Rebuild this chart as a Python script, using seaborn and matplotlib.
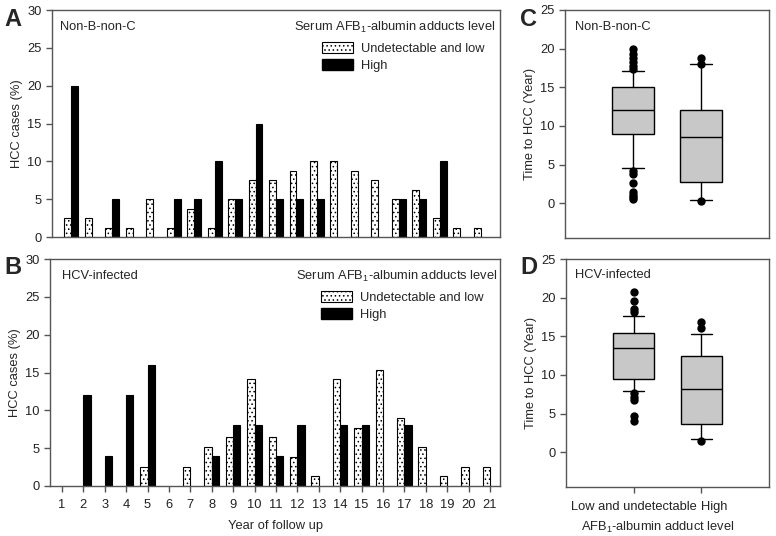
import numpy as np
import pandas as pd
import matplotlib
matplotlib.use('Agg')
import matplotlib.pyplot as plt
from matplotlib.patches import Patch
import seaborn as sns

# ---- data ----
years = list(range(1, 22))
bar_groups = ['Undetectable and low', 'High']

# A: Non-B-non-C, HCC cases (%) by year of follow up
nbnc_low = [2.5, 2.5, 1.25, 1.25, 5, 1.25, 3.75, 1.25, 5, 7.5, 7.5,
            8.75, 10, 10, 8.75, 7.5, 5, 6.25, 2.5, 1.25, 1.25]
nbnc_high = [20, 0, 5, 0, 0, 5, 5, 10, 5, 15, 5, 5, 5, 0, 0, 0, 5, 5, 10, 0, 0]

# B: HCV-infected
hcv_low = [0, 0, 0, 0, 2.56, 0, 2.56, 5.13, 6.41, 14.1, 6.41,
           3.85, 1.28, 14.1, 7.69, 15.38, 8.97, 5.13, 1.28, 2.56, 2.56]
hcv_high = [0, 12, 4, 12, 16, 0, 0, 4, 8, 8, 4, 8, 0, 8, 8, 0, 8, 0, 0, 0, 0]

# C / D: time to HCC (year), box summaries
box_groups = ['Low and undetectable', 'High']
nbnc_q1 = [9.0, 2.8]
nbnc_med = [12.1, 8.6]
nbnc_q3 = [15.0, 12.0]
nbnc_whislo = [4.6, 0.4]
nbnc_whishi = [17.1, 18.0]
nbnc_fliers = [[20.0, 19.3, 18.8, 18.3, 17.8, 17.4, 4.2, 3.8, 2.6, 1.4, 1.1, 0.8, 0.5],
               [18.8, 18.0, 0.35]]

hcv_q1 = [9.5, 3.6]
hcv_med = [13.5, 8.2]
hcv_q3 = [15.4, 12.4]
hcv_whislo = [7.9, 1.7]
hcv_whishi = [17.6, 15.3]
hcv_fliers = [[20.7, 19.6, 18.5, 18.1, 7.6, 7.2, 6.8, 4.7, 4.0],
              [16.9, 16.1, 1.4]]

# ---- style ----
sns.set_style('ticks')
plt.rcParams['font.family'] = ['Liberation Sans', 'DejaVu Sans']
plt.rcParams['mathtext.fontset'] = 'custom'
plt.rcParams['mathtext.rm'] = 'Liberation Sans'
plt.rcParams['hatch.linewidth'] = 0.6
FS = 9.3
SPINE = '#555555'
HATCH = '....'


def style_axes(ax):
    for s in ax.spines.values():
        s.set_visible(True)
        s.set_color(SPINE)
        s.set_linewidth(1.0)
    ax.tick_params(axis='both', direction='out', length=4, width=1,
                   color=SPINE, labelsize=FS, labelcolor='#222222')


def draw_bars(ax, low, high, xlim, label_x, subset, serum_x):
    df = pd.DataFrame({
        'year': years * 2,
        'pct': low + high,
        'group': [bar_groups[0]] * len(years) + [bar_groups[1]] * len(years),
    })
    sns.barplot(data=df, x='year', y='pct', hue='group', hue_order=bar_groups,
                palette=['white', 'black'], width=0.68, edgecolor='black',
                linewidth=0.8, errorbar=None, legend=False, ax=ax)
    for bar in ax.containers[0]:
        bar.set_hatch(HATCH)
    # empty years: no bar outline on the baseline
    for cont in ax.containers:
        for bar in cont:
            if bar.get_height() == 0:
                bar.set_visible(False)
    ax.set_xlim(*xlim)
    ax.set_ylim(0, 30)
    ax.set_yticks([0, 5, 10, 15, 20, 25, 30])
    ax.set_ylabel('HCC cases (%)', fontsize=FS, labelpad=3)
    style_axes(ax)
    if label_x:
        ax.tick_params(axis='x', pad=5)
        ax.set_xlabel('Year of follow up', fontsize=FS, labelpad=7)
    else:
        ax.set_xlabel('')
        ax.tick_params(axis='x', length=0, labelbottom=False)
    ax.text(subset[0], 0.925, subset[1], transform=ax.transAxes,
            fontsize=FS, va='center', ha='left')
    ax.text(serum_x, 0.925, 'Serum AFB$_1$-albumin adducts level',
            transform=ax.transAxes, fontsize=FS, va='center', ha='right')
    handles = [Patch(facecolor='white', edgecolor='black', hatch=HATCH, linewidth=0.8),
               Patch(facecolor='black', edgecolor='black')]
    ax.legend(handles, bar_groups, loc='upper left', bbox_to_anchor=(0.603, 0.86),
              frameon=False, fontsize=FS, handlelength=2.4, handleheight=1.0,
              handletextpad=0.6, labelspacing=0.3, borderpad=0, borderaxespad=0)


def draw_box(ax, q1, med, q3, whislo, whishi, fliers, subset, label_x):
    stats = []
    for i in range(len(box_groups)):
        stats.append({'q1': q1[i], 'med': med[i], 'q3': q3[i],
                      'whislo': whislo[i], 'whishi': whishi[i],
                      'fliers': fliers[i], 'label': box_groups[i]})
    ax.bxp(stats, positions=[1, 2], widths=0.61, capwidths=0.32,
           patch_artist=True, showfliers=True,
           boxprops=dict(facecolor='#c8c8c8', edgecolor='black', linewidth=1),
           medianprops=dict(color='black', linewidth=1),
           whiskerprops=dict(color='black', linewidth=1),
           capprops=dict(color='black', linewidth=1),
           flierprops=dict(marker='o', markerfacecolor='black',
                           markeredgecolor='black', markersize=5))
    ax.set_xlim(0, 3)
    ax.set_ylim(-4.5, 25)
    ax.set_yticks([0, 5, 10, 15, 20, 25])
    ax.set_ylabel('Time to HCC (Year)', fontsize=FS, labelpad=3)
    style_axes(ax)
    ax.set_xticks([1, 2])
    if label_x:
        labels = ax.set_xticklabels(box_groups)
        labels[1].set_horizontalalignment('left')
        ax.tick_params(axis='x', pad=6)
        ax.set_xlabel('AFB$_1$-albumin adduct level', fontsize=FS)
        ax.xaxis.set_label_coords(0.45, -0.145)
    else:
        ax.set_xticklabels([])
        ax.tick_params(axis='x', length=0)
    ax.text(subset[0], subset[1], subset[2], transform=ax.transAxes,
            fontsize=FS, va='center', ha='left')


fig = plt.figure(figsize=(7.76, 5.36), dpi=100)
W, H = 776, 536


def px_axes(left, top, right, bottom):
    return fig.add_axes([left / W, 1 - bottom / H, (right - left) / W, (bottom - top) / H])


ax_a = px_axes(52, 10, 500, 237)
ax_b = px_axes(50, 259, 500, 486)
ax_c = px_axes(565, 10, 769, 238)
ax_d = px_axes(566, 259, 769, 487)

draw_bars(ax_a, nbnc_low, nbnc_high, (-0.95, 20.95), False, (0.018, 'Non-B-non-C'), 0.989)
draw_bars(ax_b, hcv_low, hcv_high, (-0.56, 20.47), True, (0.027, 'HCV-infected'), 0.993)
draw_box(ax_c, nbnc_q1, nbnc_med, nbnc_q3, nbnc_whislo, nbnc_whishi, nbnc_fliers,
         (0.049, 0.925, 'Non-B-non-C'), False)
draw_box(ax_d, hcv_q1, hcv_med, hcv_q3, hcv_whislo, hcv_whishi, hcv_fliers,
         (0.044, 0.93, 'HCV-infected'), True)

# panel letters
for letter, x, y in [('A', 4, 20), ('B', 4, 268), ('C', 520, 20), ('D', 520, 268)]:
    fig.text(x / W, 1 - y / H, letter, fontsize=17, fontweight='bold',
             ha='left', va='center')

fig.savefig('out.png', dpi=100)
